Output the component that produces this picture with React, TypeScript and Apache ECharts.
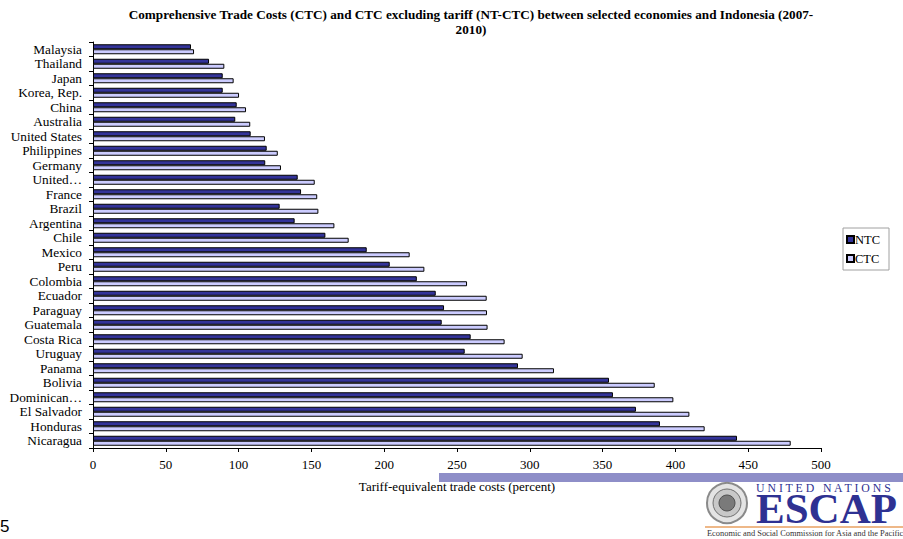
import React, { useEffect, useRef } from "react";
import * as echarts from "echarts";

const categories = [
  "Malaysia", "Thailand", "Japan", "Korea, Rep.", "China", "Australia", "United States",
  "Philippines", "Germany", "United…", "France", "Brazil", "Argentina", "Chile", "Mexico",
  "Peru", "Colombia", "Ecuador", "Paraguay", "Guatemala", "Costa Rica", "Uruguay", "Panama",
  "Bolivia", "Dominican…", "El Salvador", "Honduras", "Nicaragua",
];

const ntcValues = [
  67.3, 79.7, 89.1, 89.1, 98.7, 97.7, 108.3, 119.3, 118.3, 140.6, 142.9, 128.2, 138.5, 159.6,
  188.0, 203.8, 222.4, 235.4, 241.1, 239.5, 259.4, 255.3, 291.9, 354.4, 357.1, 372.9, 389.4, 442.3,
];

const ctcValues = [
  69.4, 90.2, 96.6, 100.3, 105.1, 108.0, 118.1, 126.9, 129.1, 152.3, 154.0, 154.8, 165.8, 175.6,
  217.5, 227.6, 256.9, 270.4, 270.6, 271.0, 282.7, 295.1, 316.6, 385.8, 398.6, 409.6, 420.1, 479.2,
];

const seriesNames = ["NTC", "CTC"];
const xTicks = { min: 0, max: 500, interval: 50 };

const SERIF = "Liberation Serif";

export default function App() {
  const ref = useRef<HTMLDivElement>(null);
  useEffect(() => {
    document.body.style.margin = "0";
    const chart = echarts.init(ref.current!, null, { renderer: "svg" });

    chart.setOption({
      animation: false,
      backgroundColor: "#ffffff",
      title: {
        text: "Comprehensive Trade Costs (CTC) and CTC excluding tariff (NT-CTC) between selected economies and Indonesia (2007-\n2010)",
        left: 466,
        top: 2,
        textAlign: "center",
        textStyle: { fontFamily: SERIF, fontSize: 13.2, fontWeight: "bold", color: "#000", lineHeight: 15 },
      },
      legend: {
        orient: "vertical",
        left: 843,
        top: 228,
        data: seriesNames,
        icon: "rect",
        itemWidth: 7,
        itemHeight: 7,
        itemGap: 6,
        padding: [5, 9, 5, 3],
        borderColor: "#a0a0a0",
        borderWidth: 1,
        textStyle: { fontFamily: SERIF, fontSize: 12.5, color: "#000", padding: [0, 0, 0, -4] },
      },
      grid: { left: 93, right: 82, top: 42, bottom: 91 },
      xAxis: {
        type: "value",
        min: xTicks.min,
        max: xTicks.max,
        interval: xTicks.interval,
        name: "Tariff-equivalent trade costs (percent)",
        nameLocation: "middle",
        nameGap: 32,
        nameTextStyle: { fontFamily: SERIF, fontSize: 13, color: "#000" },
        axisLine: { show: true, lineStyle: { color: "#000", width: 1 } },
        axisTick: { show: true, length: 4, lineStyle: { color: "#000" } },
        axisLabel: { fontFamily: SERIF, fontSize: 13, color: "#000", margin: 10 },
        splitLine: { show: false },
      },
      yAxis: {
        type: "category",
        inverse: true,
        data: categories,
        axisLine: { show: true, lineStyle: { color: "#000", width: 1 } },
        axisTick: { show: true, interval: 0, length: 4, lineStyle: { color: "#000" } },
        axisLabel: { interval: 0, fontFamily: SERIF, fontSize: 13.3, lineHeight: 14, color: "#000", margin: 11 },
        splitLine: { show: false },
      },
      series: [
        {
          name: seriesNames[0],
          type: "bar",
          data: ntcValues,
          barWidth: 5,
          barGap: "0%",
          itemStyle: { color: "#333399", borderColor: "#000", borderWidth: 1 },
        },
        {
          name: seriesNames[1],
          type: "bar",
          data: ctcValues,
          barWidth: 5,
          barGap: "0%",
          itemStyle: { color: "#ccccff", borderColor: "#000", borderWidth: 1 },
        },
      ],
      graphic: [
        { type: "rect", shape: { x: 439, y: 473, width: 464, height: 9 }, style: { fill: "#8e8ec8" }, z: -1 },
        { type: "text", x: 0, y: 518, style: { text: "5", fontSize: 17, fontFamily: "Liberation Sans", fill: "#000" } },
        { type: "circle", shape: { cx: 727, cy: 503, r: 20 }, style: { fill: "#e4e4e4", stroke: "#8a8a8a", lineWidth: 2 } },
        { type: "circle", shape: { cx: 727, cy: 503, r: 14 }, style: { fill: "#c8c8c8", stroke: "#707070", lineWidth: 1 } },
        { type: "circle", shape: { cx: 727, cy: 503, r: 8 }, style: { fill: "#7a7a7a", stroke: "#505050", lineWidth: 1 } },
        {
          type: "text",
          x: 756,
          y: 482,
          style: {
            text: "{un|U N I T E D   N A T I O N S}\n{big|ESCAP}",
            fontFamily: SERIF,
            align: "left",
            rich: {
              un: { fontSize: 11.8, lineHeight: 11, fontFamily: SERIF, fill: "#2e3192", color: "#2e3192" },
              big: { fontSize: 43, lineHeight: 30, fontFamily: SERIF, fontWeight: "bold", fill: "#2e3192", color: "#2e3192" },
            },
          },
        },
        { type: "line", shape: { x1: 705, y1: 527, x2: 903, y2: 527 }, style: { stroke: "#e8a060", lineWidth: 1.5 } },
        { type: "text", x: 707, y: 529, style: { text: "Economic and Social Commission for Asia and the Pacific", fontSize: 8.4, lineHeight: 9, fontFamily: SERIF, fill: "#333" } },
      ],
    });
    return () => chart.dispose();
  }, []);
  return <div ref={ref} style={{ width: 903, height: 539, position: "absolute", left: 0, top: 0 }} />;
}
